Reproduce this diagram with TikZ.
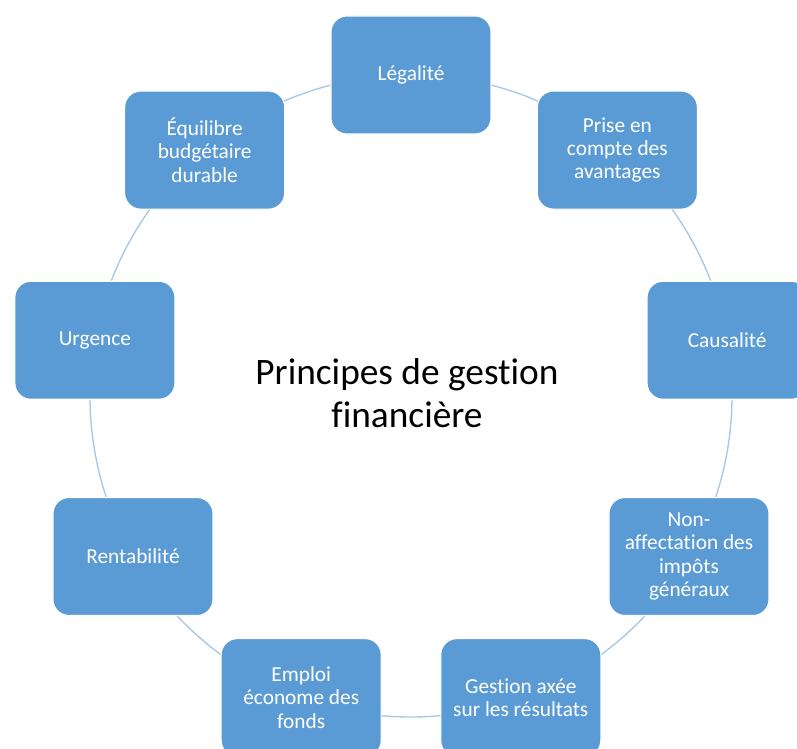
\documentclass[tikz,border=0pt]{standalone}
\usepackage{fontspec}
\setmainfont{Carlito}[Ligatures=NoCommon]
\usepackage{tikz}
\usetikzlibrary{calc}
\tikzset{>=latex}
\definecolor{mybox}{RGB}{91, 155, 213}
\definecolor{mycirc}{RGB}{165, 199, 232}
\tikzset{principe/.style={rectangle, rounded corners=12pt, fill=mybox, draw=white, line width=0.8pt,
  minimum width=120pt, minimum height=88.5pt, align=center, text=white,
  font=\fontsize{16}{17.5}\selectfont}}

\begin{document}
\begin{tikzpicture}[x=0.75pt, y=0.75pt]
\useasboundingbox (-411,-353) rectangle (386,396);
\draw[mycirc, line width=1pt] (0,0) circle (321);
% the nine principles round the circle
\node[principe] (legalite) at (90:321) {Légalité};
\node[principe] (avantages) at (50:321) {Prise en\\compte des\\avantages};
\node[principe] (causalite) at (10:321) {Causalité};
\node[principe] (nonaffect) at (-30:321) {Non-\\affectation des\\impôts\\généraux};
\node[principe] (resultats) at (-70:321) {Gestion axée\\sur les résultats};
\node[principe] (emploi) at (-110:321) {Emploi\\économe des\\fonds};
\node[principe] (rentab) at (-150:321) {Rentabilité};
\node[principe] (urgence) at (170:321) {Urgence};
\node[principe] (equilibre) at (130:321) {Équilibre\\budgétaire\\durable};
\node[align=center, font=\fontsize{28}{32.25}\selectfont] (titre) at (-4,3) {Principes de gestion\\financière};

\end{tikzpicture}
\end{document}
